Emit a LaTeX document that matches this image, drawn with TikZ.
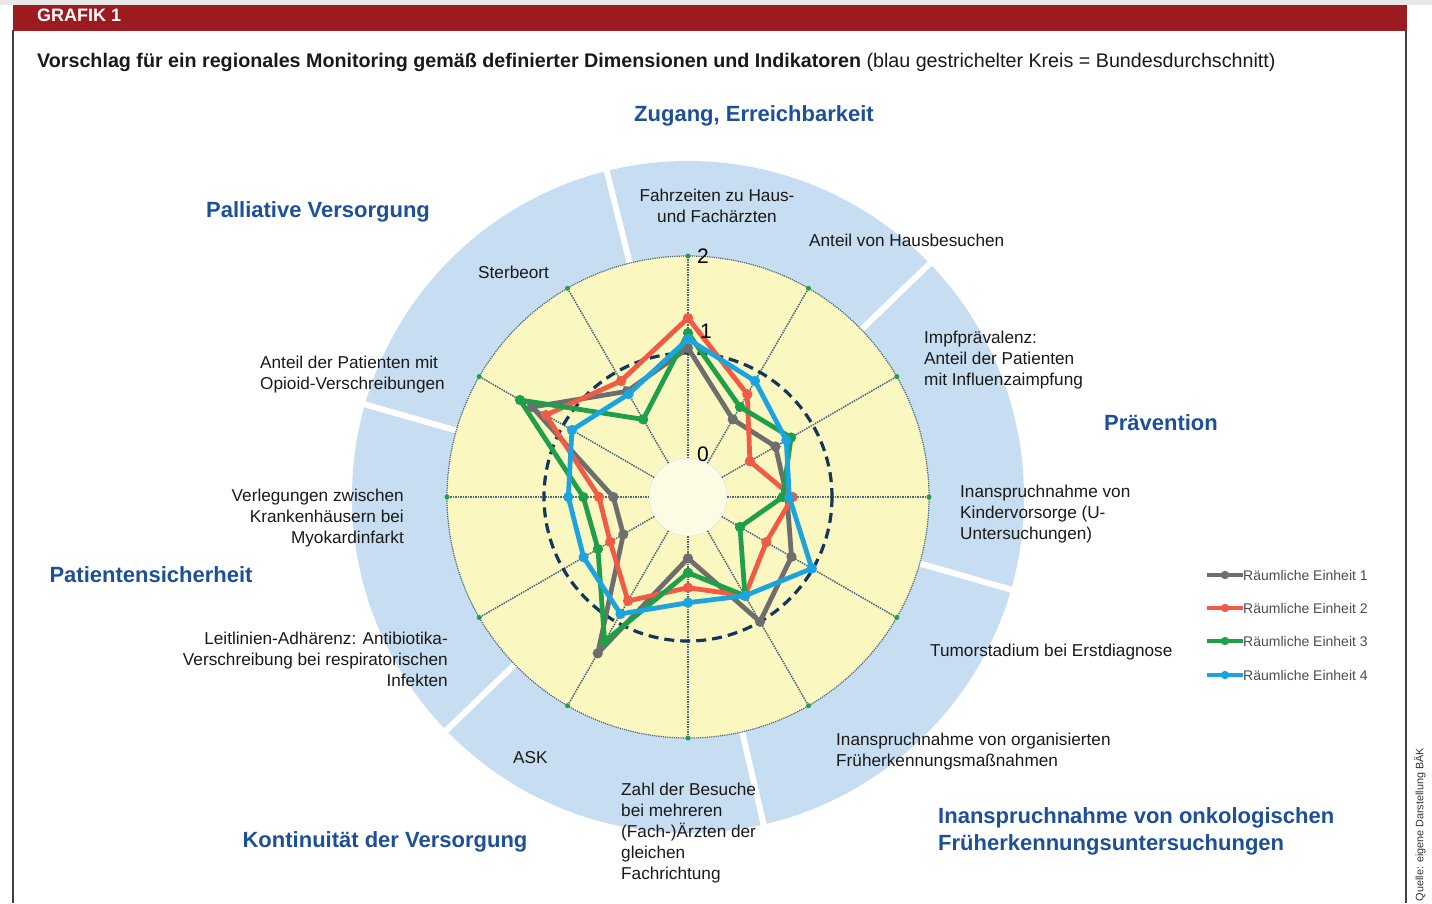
\documentclass[tikz,border=0pt]{standalone}
\usepackage{fontspec}
\setmainfont{Liberation Sans}
\usetikzlibrary{positioning,calc}
\definecolor{bak-red}{HTML}{9B1B20}
\definecolor{ring-blue}{HTML}{C7DDF1}
\definecolor{chart-yellow}{HTML}{FBF7C0}
\definecolor{inner-yellow}{HTML}{FCFBE3}
\definecolor{head-blue}{HTML}{1D4F9A}
\definecolor{spoke-grey}{HTML}{4A6682}
\definecolor{avg-navy}{HTML}{14365C}
\definecolor{einheit-grey}{HTML}{6E6E6E}
\definecolor{einheit-red}{HTML}{EF5B45}
\definecolor{einheit-green}{HTML}{1F9F4B}
\definecolor{einheit-blue}{HTML}{1CA4E0}

\tikzset{
  heading/.style={font=\fontsize{22}{27}\selectfont\bfseries, text=head-blue, inner sep=0pt},
  axislabel/.style={font=\fontsize{17.2}{21}\selectfont, text=black!90, inner sep=0pt},
  legendtext/.style={font=\fontsize{14}{16}\selectfont, text=black!70, anchor=west, inner sep=0pt},
  spoke/.style={densely dotted, line width=1.5pt, color=spoke-grey},
  enddot/.style={fill=einheit-green},
  gap/.style={line width=6pt, color=white},
  einheit/.style={line width=4.8pt, line join=round, mark=*, mark size=4.6pt, mark options={line width=1pt, solid}},
  legendline/.style={line width=3.4pt},
  ticklabel/.style={font=\fontsize{21}{24}\selectfont, inner sep=0pt}
}

\begin{document}
\begin{tikzpicture}[x=1pt, y=-1pt]
\useasboundingbox (0,0) rectangle (1432,903);
% frame and header
\fill[black!9] (0,0) rectangle (1432,5);
\fill[bak-red] (13,5) rectangle (1407,30.5);
\draw[line width=1.5pt, black!75] (13,30) -- (13,903);
\draw[line width=1.5pt, black!75] (1406,30) -- (1406,903);
\node[anchor=west, inner sep=0pt, text=white, font=\fontsize{18}{20}\selectfont\bfseries] (grafik) at (37,15) {GRAFIK 1};
\node[anchor=west, inner sep=0pt, text=black!90, font=\fontsize{19.7}{24}\selectfont] (titel) at (37,62) {\textbf{Vorschlag für ein regionales Monitoring gemäß definierter Dimensionen und Indikatoren} (blau gestrichelter Kreis = Bundesdurchschnitt)};

\begin{scope}[shift={(688,497)}]
% ring and chart area
\fill[ring-blue] (0,0) circle (336);
\draw[gap] (-104:230) -- (-104:345);
\draw[gap] (-44:230) -- (-44:345);
\draw[gap] (16:230) -- (16:345);
\draw[gap] (77:230) -- (77:345);
\draw[gap] (136:230) -- (136:345);
\draw[gap] (196:230) -- (196:345);
\fill[chart-yellow] (0,0) circle (241);
\draw[densely dotted, line width=1.2pt, color=spoke-grey] (0,0) circle (241);
\filldraw[fill=inner-yellow, draw=black!10, line width=0.6pt] (0,0) circle (39);
% spokes
\draw[spoke] (-90:39) -- (-90:241);
\draw[spoke] (-60:39) -- (-60:241);
\draw[spoke] (-30:39) -- (-30:241);
\draw[spoke] (0:39) -- (0:241);
\draw[spoke] (30:39) -- (30:241);
\draw[spoke] (60:39) -- (60:241);
\draw[spoke] (90:39) -- (90:241);
\draw[spoke] (120:39) -- (120:241);
\draw[spoke] (150:39) -- (150:241);
\draw[spoke] (180:39) -- (180:241);
\draw[spoke] (210:39) -- (210:241);
\draw[spoke] (240:39) -- (240:241);
\fill[enddot] (-90:241) circle (2.5);
\fill[enddot] (-60:241) circle (2.5);
\fill[enddot] (-30:241) circle (2.5);
\fill[enddot] (0:241) circle (2.5);
\fill[enddot] (30:241) circle (2.5);
\fill[enddot] (60:241) circle (2.5);
\fill[enddot] (90:241) circle (2.5);
\fill[enddot] (120:241) circle (2.5);
\fill[enddot] (150:241) circle (2.5);
\fill[enddot] (180:241) circle (2.5);
\fill[enddot] (210:241) circle (2.5);
\fill[enddot] (240:241) circle (2.5);
% Bundesdurchschnitt
\draw[dashed, dash pattern=on 10pt off 6pt, line width=3.2pt, color=avg-navy] (0,0) circle (144);
% Einheiten
\draw[einheit, einheit-grey] plot coordinates {(-90:149) (-60:89.6) (-30:101) (0:99) (30:119.5) (60:144) (90:61.3) (120:180.5) (150:74.7) (180:74.7) (210:180) (240:122)} -- cycle;
\draw[einheit, einheit-red] plot coordinates {(-90:179) (-60:118.6) (-30:71.5) (0:104.7) (30:90.4) (60:114) (90:90.7) (120:120) (150:89.8) (180:89) (210:164) (240:134)} -- cycle;
\draw[einheit, einheit-green] plot coordinates {(-90:164) (-60:104) (-30:119) (0:94.7) (30:60) (60:114) (90:75.7) (120:166.8) (150:104) (180:104.7) (210:194) (240:89.6)} -- cycle;
\draw[einheit, einheit-blue] plot coordinates {(-90:158) (-60:134) (-30:113.5) (0:101.3) (30:143) (60:114) (90:105.7) (120:135) (150:120.5) (180:119.7) (210:134) (240:118.8)} -- cycle;
% scale
\node[ticklabel] (skala2) at (15,-241) {2};
\node[ticklabel] (skala1) at (18,-166) {1};
\node[ticklabel] (skala0) at (15,-43) {0};
\end{scope}

% dimensions
\node[heading] (zugang) at (754,116) {Zugang, Erreichbarkeit};
\node[heading] (palliativ) at (318,212) {Palliative Versorgung};
\node[heading] (praevention) at (1161,423) {Prävention};
\node[heading] (sicherheit) at (151,575) {Patientensicherheit};
\node[heading] (kontinuitaet) at (385,842) {Kontinuität der Versorgung};
\node[heading, anchor=west, align=left] (onkologie) at (938,831) {Inanspruchnahme von onkologischen\\Früherkennungsuntersuchungen};

% indicators
\node[axislabel, align=center] (fahrzeit) at (717,206) {Fahrzeiten zu Haus-\\und Fachärzten};
\node[axislabel, anchor=west] (hausbesuch) at (809,240.5) {Anteil von Hausbesuchen};
\node[axislabel, anchor=west, align=left] (impfung) at (924,360.5) {Impfprävalenz:\\Anteil der Patienten\\mit Influenzaimpfung};
\node[axislabel, anchor=west, align=left] (kindervorsorge) at (960,514.5) {Inanspruchnahme von\\Kindervorsorge (U-\\Untersuchungen)};
\node[axislabel, anchor=west] (tumorstadium) at (930,652.5) {Tumorstadium bei Erstdiagnose};
\node[axislabel, anchor=west, align=left] (frueherkennung) at (836,752) {Inanspruchnahme von organisierten\\Früherkennungsmaßnahmen};
\node[axislabel, anchor=west, align=left] (besuche) at (621,833.5) {Zahl der Besuche\\bei mehreren\\(Fach-)Ärzten der\\gleichen\\Fachrichtung};
\node[axislabel, anchor=west] (ask) at (513,757.5) {ASK};
\node[axislabel, anchor=east, align=right] (leitlinien) at (448,659.5) {Leitlinien-Adhärenz: Antibiotika-\\Verschreibung bei respiratorischen\\Infekten};
\node[axislabel, anchor=east, align=right] (verlegung) at (404,518.5) {Verlegungen zwischen\\Krankenhäusern bei\\Myokardinfarkt};
\node[axislabel, anchor=west, align=left] (opioid) at (260,375) {Anteil der Patienten mit\\Opioid-Verschreibungen};
\node[axislabel, anchor=west] (sterbeort) at (478,272.5) {Sterbeort};

% legend
\node[legendtext] (leg1) at (1243,575) {Räumliche Einheit 1};
\node[legendtext] (leg2) at (1243,608) {Räumliche Einheit 2};
\node[legendtext] (leg3) at (1243,641) {Räumliche Einheit 3};
\node[legendtext] (leg4) at (1243,675) {Räumliche Einheit 4};
\coordinate (leg1a) at (1207,575);
\coordinate (leg2a) at (1207,608);
\coordinate (leg3a) at (1207,641);
\coordinate (leg4a) at (1207,675);
\draw[legendline, einheit-grey] (leg1a) -- (leg1.west);
\draw[legendline, einheit-red] (leg2a) -- (leg2.west);
\draw[legendline, einheit-green] (leg3a) -- (leg3.west);
\draw[legendline, einheit-blue] (leg4a) -- (leg4.west);
\fill[einheit-grey] ($(leg1a)!0.5!(leg1.west)$) circle (4.2);
\fill[einheit-red] ($(leg2a)!0.5!(leg2.west)$) circle (4.2);
\fill[einheit-green] ($(leg3a)!0.5!(leg3.west)$) circle (4.2);
\fill[einheit-blue] ($(leg4a)!0.5!(leg4.west)$) circle (4.2);

% source
\node[rotate=90, anchor=east, inner sep=0pt, text=black!80, font=\fontsize{10.8}{13}\selectfont] (quelle) at (1420,748) {Quelle: eigene Darstellung BÄK};
\end{tikzpicture}
\end{document}
